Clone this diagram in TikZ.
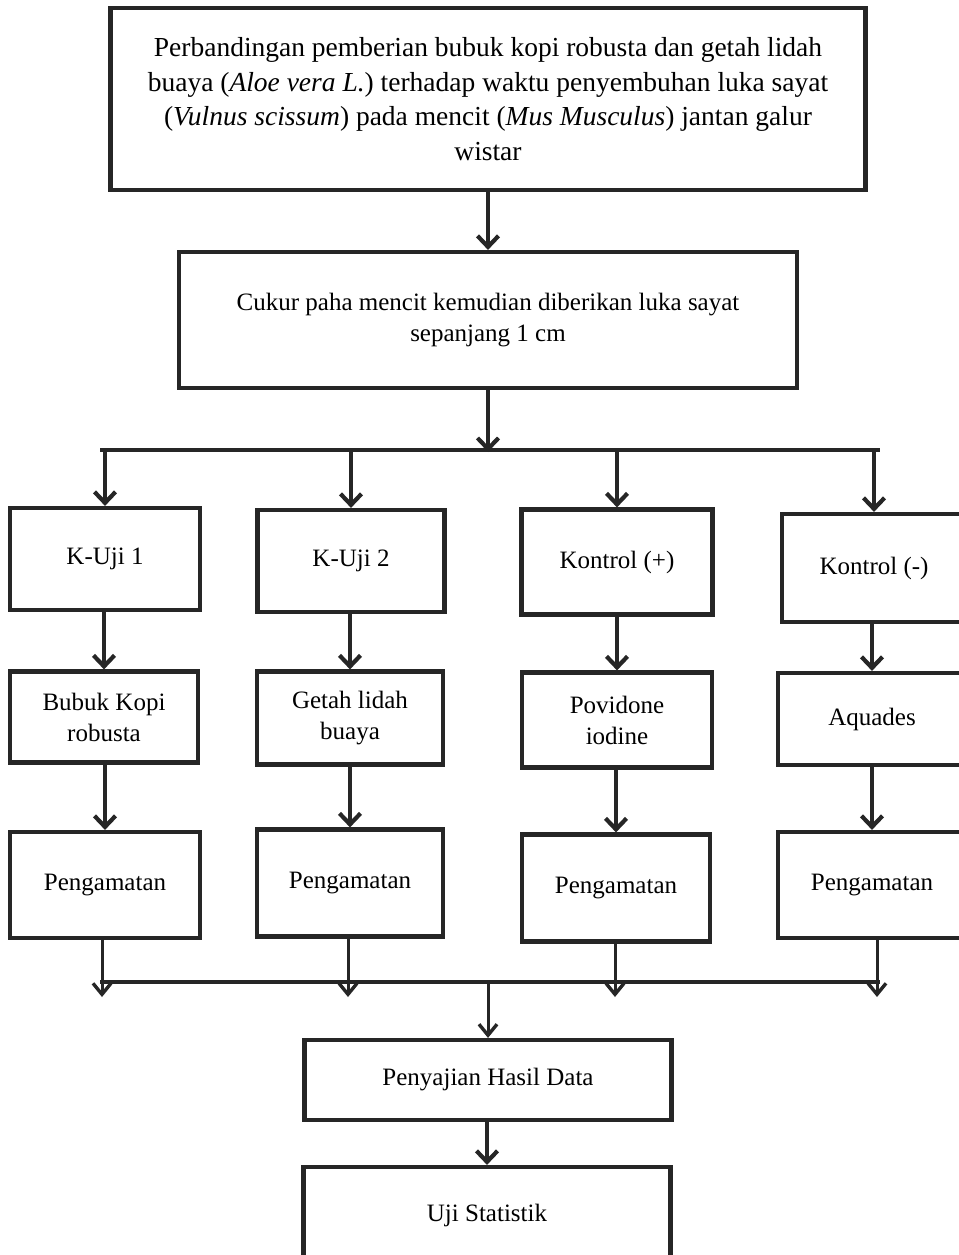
\documentclass[tikz,border=0pt]{standalone}
\usepackage{fontspec}
\setmainfont{Liberation Serif}
\usetikzlibrary{arrows.meta}
\begin{document}
\begin{tikzpicture}[x=1pt,y=-1pt,
  box/.style={draw=black!85,line width=4.2pt,inner sep=0pt,align=center,font=\fontsize{27.5}{34.5}\selectfont},
  sbox/.style={box,font=\fontsize{25}{31}\selectfont},
  arr/.style={draw=black!85,line width=4.2pt,-{Straight Barb[length=11pt,width=21pt,line width=4.2pt]}},
  thinarr/.style={draw=black!85,line width=3pt,-{Straight Barb[length=11pt,width=18pt,line width=3.4pt]}},
  bar/.style={draw=black!85,line width=4.2pt},
  thinbar/.style={draw=black!85,line width=3.4pt}]
\useasboundingbox (0,0) rectangle (958,1255);
\fill[white] (0,0) rectangle (958,1255);

\node[box,minimum width=755pt,minimum height=182pt] (top) at (488,99)
 {Perbandingan pemberian bubuk kopi robusta dan getah lidah\\
  buaya (\textit{Aloe vera L.}) terhadap waktu penyembuhan luka sayat\\
  (\textit{Vulnus scissum}) pada mencit (\textit{Mus Musculus}) jantan galur\\
  wistar};
\node[sbox,minimum width=618pt,minimum height=136pt] (cukur) at (488,320)
 {Cukur paha mencit kemudian diberikan luka sayat\\sepanjang 1 cm};

\node[sbox,minimum width=190pt,minimum height=102pt] (k1) at (105,559) {K-Uji 1};
\node[sbox,minimum width=187pt,minimum height=102pt] (k2) at (351,561) {K-Uji 2};
\node[sbox,minimum width=191pt,minimum height=105pt] (kp) at (617,562) {Kontrol (+)};
\node[sbox,minimum width=184pt,minimum height=108pt] (km) at (874,568) {Kontrol (-)};

\node[sbox,minimum width=188pt,minimum height=91pt] (b1) at (104,717) {Bubuk Kopi\\robusta};
\node[sbox,minimum width=186pt,minimum height=93pt] (b2) at (350,718) {Getah lidah\\buaya};
\node[sbox,minimum width=190pt,minimum height=95pt] (b3) at (617,720) {Povidone\\iodine};
\node[sbox,minimum width=188pt,minimum height=92pt] (b4) at (872,719) {Aquades};

\node[sbox,minimum width=190pt,minimum height=106pt] (p1) at (105,885) {Pengamatan};
\node[sbox,minimum width=186pt,minimum height=107pt] (p2) at (350,883) {Pengamatan};
\node[sbox,minimum width=188pt,minimum height=107pt] (p3) at (616,888) {Pengamatan};
\node[sbox,minimum width=188pt,minimum height=106pt] (p4) at (872,885) {Pengamatan};

\node[sbox,minimum width=367pt,minimum height=80pt] (hasil) at (488,1080) {Penyajian Hasil Data};
\node[sbox,minimum width=367pt,minimum height=96pt] (uji) at (487,1215) {Uji Statistik};

% top flow
\draw[arr] (top.south) -- (cukur.north);
\coordinate (splitL) at (100,450);
\coordinate (splitR) at (880,450);
\coordinate (splitC) at (488,452);
\draw[arr] (cukur.south) -- (splitC);
\draw[bar] (splitL) -- (splitR);
\draw[arr] (splitL -| k1) -- (k1.north);
\draw[arr] (splitL -| k2) -- (k2.north);
\draw[arr] (splitL -| kp) -- (kp.north);
\draw[arr] (splitL -| km) -- (km.north);

\draw[arr] (k1.south -| b1) -- (b1.north);
\draw[arr] (k2.south -| b2) -- (b2.north);
\draw[arr] (kp.south -| b3) -- (b3.north);
\draw[arr] (km.south -| b4) -- (b4.north);
\draw[arr] (b1.south -| p1) -- (p1.north);
\draw[arr] (b2.south -| p2) -- (p2.north);
\draw[arr] (b3.south -| p3) -- (p3.north);
\draw[arr] (b4.south -| p4) -- (p4.north);

% merge
\coordinate (mL) at (100,982);
\coordinate (mR) at (880,982);
\coordinate (m1) at (102,997);
\coordinate (m2) at (348,997);
\coordinate (m3) at (615,997);
\coordinate (m4) at (877,997);
\coordinate (mC) at (488,982);
\draw[thinbar] (mL) -- (mR);
\draw[thinarr] (p1.south -| m1) -- (m1);
\draw[thinarr] (p2.south -| m2) -- (m2);
\draw[thinarr] (p3.south -| m3) -- (m3);
\draw[thinarr] (p4.south -| m4) -- (m4);
\draw[thinarr] (mC) -- (hasil.north -| mC);
\draw[arr] (hasil.south -| uji) -- (uji.north);
\end{tikzpicture}
\end{document}
